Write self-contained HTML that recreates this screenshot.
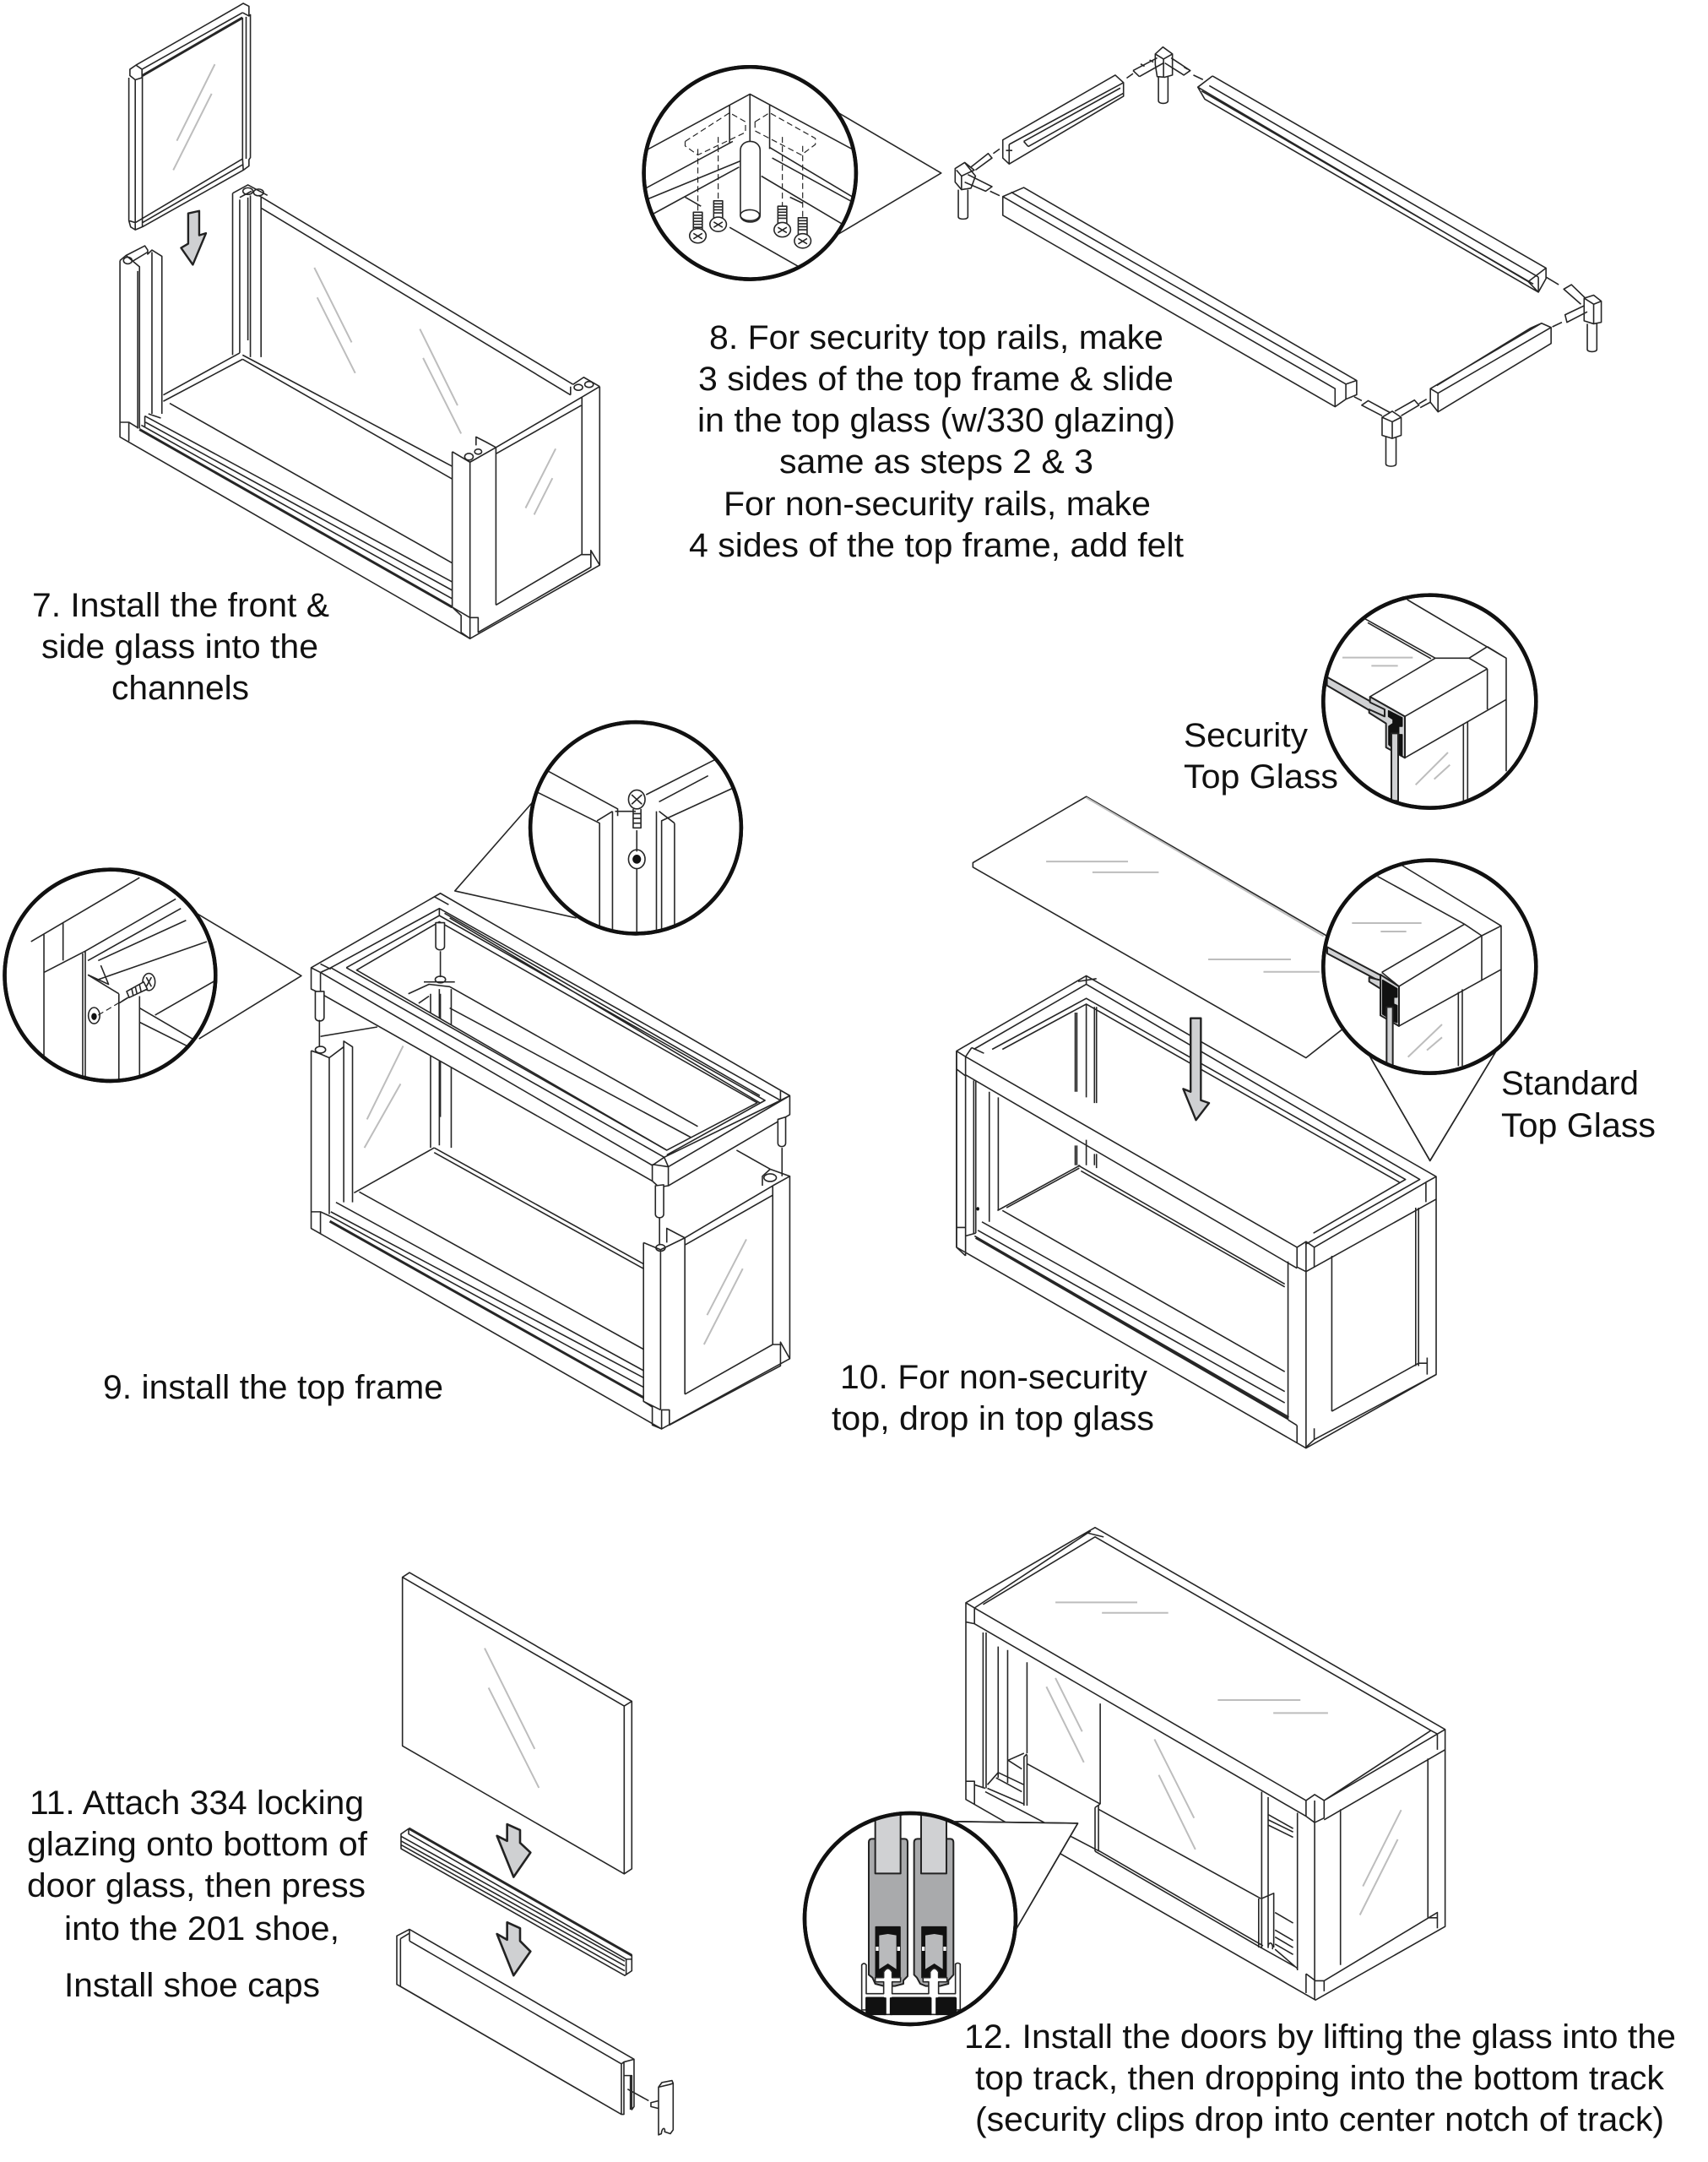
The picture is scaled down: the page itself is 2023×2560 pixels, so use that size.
<!DOCTYPE html>
<html><head><meta charset="utf-8"><style>
html,body{margin:0;padding:0;background:#fff}
svg{display:block}
path,ellipse,circle,polygon,rect{vector-effect:non-scaling-stroke;fill:none;stroke:#262626;stroke-width:1.6;stroke-linejoin:round}
.w{fill:#fff}
.g{stroke:#bdbdbd;stroke-width:2}
.t{stroke-width:3}
.c{stroke:#111;stroke-width:4.5;fill:#fff}
.o{stroke:#111;stroke-width:4.5;fill:none}
.d{stroke-dasharray:7 4;stroke-width:1.2}
.a{fill:#cfd0d2;stroke:#222;stroke-width:2.4}
.m{fill:#a9aaac;stroke:#222;stroke-width:2}
.l{fill:#d0d1d3;stroke:#222;stroke-width:2}
.k{fill:#111;stroke:#111}
text{font-family:"Liberation Sans",sans-serif;font-size:40px;fill:#111}
</style></head><body>
<svg width="2023" height="2560" viewBox="0 0 2023 2560" xmlns="http://www.w3.org/2000/svg">
<defs>
<clipPath id="c2"><ellipse cx="197" cy="490" rx="167" ry="352"/></clipPath>
<clipPath id="c3r"><ellipse cx="1230" cy="250" rx="204" ry="223"/></clipPath>
<clipPath id="c3l"><ellipse cx="213" cy="561" rx="204" ry="223"/></clipPath>
<clipPath id="c8"><circle cx="400" cy="392" r="378"/></clipPath>
<clipPath id="c7"><circle cx="594" cy="366" r="375"/></clipPath>
</defs>
<rect x="0" y="0" width="2023" height="2560" style="fill:#fff;stroke:none"/>

<!-- STEP 7 -->
<g transform="translate(100,0) scale(.4209,.4975)">
<path d="M125 185V525M143 190V547M163 180V540M128 165L145 155L162 165V185L143 190L128 180ZM125 525L130 540L143 547L163 540M125 525L143 530L163 520M145 155L433 15M162 165L445 30M433 15L447 8L463 15V38M445 30L463 38L467 35V375L463 380V395L447 405L445 378M445 42V380M455 40V378M163 520L445 378M163 540L447 405M163 530L445 392"/>
<path class="t" d="M163 180L445 42"/>
<polygon class="a" points="292,508 323,502 323,560 342,555 305,630 272,590 292,580"/>
<path class="g" d="M367 153L260 335M358 223L250 405M647 637L752 815M655 708L762 888M944 783L1050 965M953 852L1060 1032M1326 1068L1218 1248M1317 1138L1210 1318"/>
<path d="M100 620V1040L1085 1520L1450 1345V920M100 620L117 608L170 585L178 595V605L190 595L218 610V985M117 608L155 635L155 1020M150 645V1020M190 600V985M100 1005H125V1050M125 1005L150 1018M135 622L178 600"/>
<ellipse cx="122" cy="620" rx="12" ry="8"/>
<path d="M417 460V845M437 475V840M467 465V850M497 470V850M417 460L460 440L515 465M437 470L470 455M490 465L1375 915M497 495L1368 940M445 845L1035 1110M445 855L1035 1140M460 470V810M222 940L437 840M222 955L445 855M240 960L1035 1340"/>
<ellipse cx="460" cy="455" rx="14" ry="8"/><ellipse cx="490" cy="458" rx="14" ry="8"/>
<path d="M170 990L1035 1385M172 1005L1035 1405M160 1012L1035 1425M180 985L215 995M170 990V1015"/>
<path class="t" d="M155 1022L1035 1445"/>
<path class="w" d="M1035 1075V1445L1060 1465V1505L1085 1520V1470L1108 1470V1505L1425 1350V1310L1450 1345M1035 1075L1085 1100L1158 1065L1130 1052L1102 1040V1060"/>
<path d="M1085 1100V1470M1158 1065V1440M1035 1445L1085 1470M1158 1065L1400 945M1158 1080L1398 965M1400 945V1320M1400 945L1450 920M1375 915L1405 898L1450 920M1368 920V940M1158 1440L1398 1320H1425M1425 1310V1350"/>
<ellipse cx="1082" cy="1087" rx="12" ry="8"/><ellipse cx="1108" cy="1075" rx="10" ry="6"/><ellipse cx="1390" cy="922" rx="12" ry="7"/><ellipse cx="1420" cy="915" rx="12" ry="7"/>
</g>

<!-- STEP 8 -->
<g transform="translate(740,30) scale(.7525,.357)">
<path d="M332 285L498 490L330 700"/>
<ellipse class="c" cx="197" cy="490" rx="167" ry="352"/>
<g clip-path="url(#c2)">
<path d="M20 430L197 228L375 430M165 265V390M197 228V385M228 265V410M20 555L170 385M20 590L182 450M45 625L180 470M228 405L375 590M232 440L375 605M215 500L375 700M165 670L290 820M95 570L120 600M260 570L280 590"/>
<path class="d" d="M95 385L165 290L190 320V355L115 430L95 400ZM205 320L228 290L300 375V395L278 430L205 350ZM115 410V620M147 370V580M248 370V600M280 400V640"/>
<path class="w" d="M182 415C182 375 213 375 213 415V630C213 660 182 660 182 630Z"/>
<ellipse class="w" cx="197" cy="630" rx="15" ry="18"/>
<path class="w" d="M108 620H122V680H108ZM140 582H154V640H140ZM241 600H255V660H241ZM273 638H287V695H273Z"/>
<path d="M108 630H122M108 640H122M108 650H122M108 660H122M108 670H122M140 592H154M140 602H154M140 612H154M140 622H154M241 610H255M241 620H255M241 630H255M241 640H255M273 648H287M273 658H287M273 668H287M273 678H287"/>
<ellipse class="w" cx="115" cy="698" rx="13" ry="24"/><ellipse class="w" cx="147" cy="660" rx="13" ry="24"/><ellipse class="w" cx="248" cy="678" rx="13" ry="24"/><ellipse class="w" cx="280" cy="715" rx="13" ry="24"/>
<path d="M108 690L122 708M122 690L108 708M140 652L154 670M154 652L140 670M241 670L255 688M255 670L241 688M273 707L287 725M287 707L273 725"/>
</g>
<ellipse class="o" cx="197" cy="490" rx="167" ry="352"/>

<path class="w" d="M847 72L862 95V165L850 172L838 170L835 130V95Z"/>
<path d="M835 95L848 112L862 95M848 112V170M800 150L838 108M810 170L848 125M800 150L810 170M860 108L890 150L880 165L850 125M840 170V250C840 262 855 262 855 250V170M790 175L800 160M895 165L910 180M812 128L818 136M826 115L832 122M870 122L876 130M880 138L886 146"/>
<path d="M595 380L772 165L785 190V235L605 460L595 440ZM605 395L785 190M628 385L780 208M635 402L785 225M628 385L635 402M605 395V460M600 415H610"/>
<path d="M925 168L1450 805V840L1438 885L913 245L902 205L925 168M902 205L1422 850L1450 805M908 218L1430 858M920 200L1438 835M1422 850L1438 885M1438 835V885"/>
<path d="M595 568L628 538L1152 1178V1225L1135 1240L1118 1265L595 630ZM595 568L1118 1205V1265M608 553L1135 1190M1135 1190L1152 1178M1135 1190V1240"/>
<path d="M1280 1282L1458 1055V1002L1443 988L1268 1205V1250L1280 1282ZM1278 1195L1425 1005L1443 988M1280 1220L1458 1002M1268 1205L1280 1220V1282M1268 1250L1252 1268"/>
<path class="w" d="M520 475L535 455L552 500L545 540L530 545L520 520Z"/>
<path d="M535 455L550 480L530 500V545M522 480L530 500M545 470L572 425L578 440L552 480M540 495L578 535L568 550L535 520M525 545V635C525 645 540 645 540 635V545M580 425L590 410M575 550L590 565"/>
<path class="w" d="M1510 905L1525 895L1537 915V985L1525 990L1510 980Z"/>
<path d="M1510 905L1525 925L1537 915M1525 925V990M1510 930L1480 960L1483 985L1515 950M1512 905L1490 860L1478 875L1505 925M1515 990V1075C1515 1085 1530 1085 1530 1075V990M1475 985L1460 1000M1470 860L1450 835"/>
<path class="w" d="M1192 1300L1208 1280L1222 1300V1360L1208 1370L1192 1360Z"/>
<path d="M1192 1300L1208 1315L1222 1300M1208 1315V1370M1192 1295L1160 1260L1170 1245L1205 1285M1222 1295L1250 1260L1243 1243L1212 1280M1198 1365V1455C1198 1465 1214 1465 1214 1455V1365M1160 1245L1148 1232M1250 1255L1262 1240"/>
</g>

<!-- STEP 9 -->
<g transform="translate(0,840) scale(.6122,.5612)">
<path d="M1035 190L880 383L1115 440M380 430L583 562L385 695"/>
<path class="g" d="M780 710L710 865M775 790L705 925M1444 1118L1368 1278M1437 1180L1362 1340"/>
<path d="M602 720V1095L1280 1518L1528 1370V985M602 720L620 727L637 735V1065M637 735L665 712V700L682 712V1040M665 700V1040M620 690L730 670M602 1060H620V1105M620 1060L640 1070"/>
<ellipse cx="620" cy="718" rx="10" ry="7"/>
<path d="M833 600V925M850 590V920M873 590V925M852 600V860M790 600L830 580L870 585L1350 880M820 575H880M810 620L830 605M870 630L1340 905M840 925L1245 1170M840 935L1245 1180M685 1020L840 925M695 1018L1245 1350M650 1040L1245 1395M640 1060L1245 1410M640 1070L1245 1430"/>
<path class="t" d="M638 1080L1245 1452"/>
<path d="M1245 1125V1460L1262 1472V1510L1280 1518V1478L1295 1478V1510L1510 1385V1335L1528 1370M1245 1125L1278 1140L1325 1115L1290 1095V1125M1278 1140V1478M1325 1115V1445M1325 1115L1495 1005M1325 1130L1495 1025M1495 1005V1340M1495 1005L1528 985L1490 970L1475 985V1005M1325 1445L1495 1340H1510M1245 1460L1278 1478M1425 930L1490 970"/>
<ellipse cx="1278" cy="1136" rx="9" ry="7"/><ellipse cx="1490" cy="988" rx="12" ry="8"/>
<path class="w" fill-rule="evenodd" style="fill-rule:evenodd" d="M602 545L852 388L1528 815V855L1293 1005L1275 1008L1262 995L618 598L602 590ZM690 550L850 448L1465 830L1290 930Z"/>
<path d="M602 545L620 555V598M620 555L640 545M620 555L1262 962M1262 962L1285 945L1293 965V1005M1262 960L1293 965M1262 962V995M620 537L640 548M640 545L850 420L1510 825L1285 945M670 545L850 435L1480 825L1290 940M840 395L868 412M1510 805V825L1528 815M1293 965L1528 815M640 545L1285 945M670 545L1290 930M850 420V435M860 430L1470 815M870 440L1470 830"/>
<path class="w" d="M610 595V650C610 660 627 660 627 650V595ZM843 450V500C843 510 860 510 860 500V450ZM1505 865V915C1505 925 1520 925 1520 915V860ZM1268 1005V1065C1268 1075 1284 1075 1284 1065V1003Z"/>
<path d="M618 655V710M852 510V565M1513 925V985M1276 1072V1130"/>
<ellipse cx="852" cy="570" rx="10" ry="7"/>
<ellipse class="c" cx="1230" cy="250" rx="204" ry="223"/>
<g clip-path="url(#c3r)">
<path d="M1060 130L1195 210V225M1040 175L1160 240V470M1185 215V470M1420 165L1280 235V470M1385 105L1250 180M1370 140L1275 195M1305 240V470M1232 310V470M1155 235L1185 215M1275 215L1305 240M1270 215V470M1190 215H1230"/>
<ellipse class="w" cx="1232" cy="190" rx="16" ry="20"/><ellipse class="w" cx="1232" cy="316" rx="16" ry="20"/>
<ellipse class="k" cx="1232" cy="316" rx="7" ry="8"/>
<path d="M1222 180L1242 200M1242 180L1222 200M1225 210V250H1240V210M1225 220H1240M1225 230H1240M1225 240H1240M1232 255V300"/>
</g>
<ellipse class="o" cx="1230" cy="250" rx="204" ry="223"/>
<ellipse class="c" cx="213" cy="561" rx="204" ry="223"/>
<g clip-path="url(#c3l)">
<path d="M60 490L270 355M85 475V790M122 450V530M85 555L165 510M160 515V790M165 510V780M165 510L340 400M170 530L350 420M190 530L360 445M190 570L400 490M170 560L230 600M230 600V790M270 605V790M230 620L290 580M270 630L380 700M270 660L380 720M300 645L420 570M60 490L122 450M170 560L210 580L195 540"/>
<path class="d" d="M190 645L275 590"/>
<ellipse cx="182" cy="646" rx="11" ry="17"/><ellipse class="k" cx="182" cy="648" rx="4" ry="6"/>
<ellipse class="w" cx="288" cy="575" rx="12" ry="18"/>
<path class="w" d="M245 595L278 575L285 590L250 608Z"/>
<path d="M255 590L258 605M262 586L265 600M270 581L273 596M283 565L293 585M293 565L283 585"/>
</g>
<ellipse class="o" cx="213" cy="561" rx="204" ry="223"/>
</g>

<!-- STEP 10 -->
<g transform="translate(1100,690) scale(.4847,.6697)">
<path class="w" d="M108 495L385 378L1010 640V790L922 840L108 503Z"/>
<path class="g" d="M287 493H487M400 512H562M683 666H885M818 688H955M385 380L965 625"/>
<path d="M1072 830L1225 1022L1385 830"/>
<path class="g" d="M1132 1193L1038 1330M1124 1245L1032 1380"/>
<path class="w" d="M68 828L385 695L1240 1050V1400L922 1530L68 1175Z"/>
<path d="M68 828V1175M90 838V1190M68 860L90 872M68 1140H90M90 1155L115 1150M68 1175L90 1190M90 838L105 822M68 828L90 838M90 838L900 1175M90 870L900 1212M900 1175L922 1165L942 1175V1210L922 1218L900 1210ZM922 1165V1218M942 1175L1215 1060L1240 1050M942 1210L1240 1090M1215 1060V1095M110 825L385 710L1200 1055L920 1170M155 825L385 735L1165 1055L940 1150M385 695V710M365 705L410 700M105 822L135 832M180 825L385 745L1150 1060M110 880V1150M115 880V1150M148 900V1130M170 910V1110M168 1110L370 1030M190 1105L368 1035M385 745V910M385 985V1030M358 760V900M358 995V1030M362 760V900M362 995V1030M410 750V920M410 1010V1035M405 750V920M405 1010V1030M365 1030L870 1240M372 1040L870 1245M180 1110L870 1395M130 1130L870 1430M120 1145L870 1450M112 1155L880 1475"/>
<path class="t" d="M115 1158L878 1478"/>
<path d="M878 1200V1480M922 1218V1530M900 1490V1520M942 1495V1515M900 1490L878 1480M985 1190V1465M1190 1105V1385M1197 1105V1385M985 1465L1197 1380H1218V1400M1218 1370V1400M942 1515L1240 1400M920 1530L942 1515"/>
<ellipse cx="120" cy="1107" rx="2" ry="2" class="k"/>
<polygon class="a" points="640,770 665,770 665,915 685,920 653,950 622,895 640,900"/>
<path d="M1072 830L1225 1022L1385 830"/>
</g>
<g transform="translate(1560,700) scale(.3333)">
<circle class="c" cx="400" cy="392" r="378"/>
<g clip-path="url(#c8)">
<path class="g" d="M90 236H340M193 265H287M465 573L350 688M472 617L416 668"/>
<path d="M170 98L420 238M180 112L405 240M320 30L672 238V640M420 238H540L605 276M540 238L605 197M605 197L672 238M605 276V420M188 375L420 238M188 375L312 445L605 276M312 445V592L672 385M520 475V745M535 465V745"/>
<polygon class="l" points="35,305 240,420 240,455 35,335"/>
<path class="l" d="M188 375L312 445V592L245 555V470L185 432V420L240 445V420L188 395Z"/>
<path class="k" d="M254 425L302 450V480L290 480V510L302 510V585L255 545V480L270 470V455L254 445Z"/>
<polygon class="l" points="264,505 288,505 288,745 264,745"/>
</g>
<circle class="o" cx="400" cy="392" r="378"/>
</g>
<g transform="translate(1560,1014) scale(.3333)">
<circle class="c" cx="400" cy="392" r="378"/>
<g clip-path="url(#c8)">
<path class="g" d="M124 237H371M226 267H317M444 597L323 713M444 643L390 689"/>
<path d="M298 30L654 247V693M215 71L524 241M524 241L585 282L654 247M230 412L524 241M230 412L291 462L585 282M291 462V603L654 402M585 282V442M502 482V745M516 472V745"/>
<polygon class="l" points="36,322 225,422 225,445 36,345"/>
<path class="l" d="M185 430L225 440V470L185 445Z"/>
<path class="l" d="M225 420L291 462V603L225 565Z"/>
<path class="k" d="M233 440L284 470V500L272 500V525L284 530V590L270 585V530L248 530V570L233 560Z"/>
<polygon class="l" points="247,535 269,535 269,745 247,745"/>
</g>
<circle class="o" cx="400" cy="392" r="378"/>
</g>

<!-- STEP 11 -->
<g transform="translate(440,1840) scale(.3333,.4592)">
<path class="g" d="M402 243L580 503M416 345L595 603"/>
<path d="M110 60L135 48L925 380V812L898 825L110 495ZM110 60L898 392V825M898 392L925 380"/>
<path d="M105 722L133 708L925 1035V1075L900 1087L105 760ZM105 728L900 1050M105 740L900 1062M105 750L900 1075M132 708V722L905 1045V1085M905 1045H925"/>
<path class="t" d="M133 708L925 1035"/>
<path class="w" d="M90 985L135 968L933 1303V1425L925 1433V1345L897 1345V1445L888 1445L90 1110ZM90 985V1110M103 992V1115M103 992L135 978M135 968V998M103 1115L888 1445M888 1315V1445M135 998L888 1315L897 1310V1345M897 1310L933 1303M920 1345V1433"/>
<path d="M910 1380L985 1410"/>
<path class="w" d="M1020 1375L1032 1363L1068 1358L1072 1365V1485L1062 1495L1042 1490C1045 1478 1032 1478 1030 1495L1020 1498ZM1020 1410L993 1415V1425L1020 1430"/>
<path d="M1020 1375L1060 1368L1072 1365"/>
<polygon class="a" style="stroke-width:2.6" points="482,697 528,712 528,745 565,770 505,833 446,727 482,740"/>
<polygon class="a" style="stroke-width:2.6" points="482,950 528,965 528,998 565,1025 505,1087 446,980 482,995"/>
</g>

<!-- STEP 12 -->
<g transform="translate(940,1790) scale(.51,.4145)">
<path d="M400 260L700 45L1513 622V1185L1212 1395L400 822ZM420 275L690 55M420 275V320M400 260L420 275M420 275L1190 825M420 320L1190 870M440 265L700 72L1480 625L1232 825M680 60L720 72M1190 825L1210 808L1232 825V875L1210 888L1190 870ZM1210 825V888M1232 825L1495 635M1480 625L1495 635L1513 622M1495 635V680M1232 880L1513 680M1210 888V1395M1170 860V1310M1270 850V1295M1473 705V1160M400 315L420 320M400 770H420V835M420 780L445 790"/>
<path d="M1190 1320V1375M1232 1340V1370M1190 1320L1212 1340L1232 1340L1495 1145V1190M1473 1160H1495"/>
<path class="g" d="M985 538H1177M1114 575H1241M608 259H798M716 289H870M608 475L670 628M587 500L674 716M838 650L930 875M848 752L933 965M1411 852L1322 1070M1403 936L1315 1152"/>
<path d="M440 345V790M447 345V790M475 385V760M497 395V775M542 430V690M535 700V840M542 695V840M535 700L542 692M498 710L535 690M498 710L530 735M450 780L475 745L535 780M450 790L535 835M445 800L710 970M470 760L530 800M712 548V835M700 845V970M708 840V970M700 845L712 835M542 720L712 835M708 850L1085 1105M1087 800V1105M1102 815V1095M1102 865L1160 905M1102 880L1160 915M1102 895L1160 930M1118 1145L1160 1175M1118 1195L1160 1225M1118 1215L1160 1245M1118 1235L1160 1265M1118 1250L1170 1305"/>
<path d="M1080 1105V1245M1087 1105V1245M1087 1105L1115 1090V1245M1102 1095V1245C1102 1225 1115 1230 1112 1250M700 970L1085 1245M708 968L1090 1240M1085 1245L1165 1300"/>
<polygon class="w" points="380,885 660,890 518,1190 300,1100"/>
</g>
<g transform="translate(880,2150) scale(.3333)">
<circle class="c" cx="594" cy="366" r="375"/>
<g clip-path="url(#c7)">
<path class="m" d="M447 95Q447 82 458 82H575Q585 82 585 95V570L570 585V597L540 605H500L470 597L460 575L447 565Z"/>
<path class="m" d="M608 95Q608 82 620 82H737Q748 82 748 95V565L730 585V597L700 605H650L630 597L618 575L608 565Z"/>
<polygon class="l" points="470,-20 560,-20 560,205 470,205"/>
<polygon class="l" points="633,-20 723,-20 723,205 633,205"/>
<path class="k" d="M472 395H558V575H472ZM636 395H722V575H636Z"/>
<path style="fill:#b9babc;stroke:none" d="M484 425L515 420L545 425V545L515 525L484 545ZM648 425L680 420L710 425V545L680 525L648 545Z"/>
<path style="fill:#fff;stroke:none" d="M472 465H482V480H472ZM548 465H558V480H548ZM636 465H646V480H636ZM712 465H722V480H712Z"/>
<path class="w" d="M500 632V590H470V575H500V555Q515 530 530 555V575H560V590H530V632H660V590H640V575H665V555Q680 530 695 555V575H725V590H695V632H755V527Q763 520 772 527V690H755V646H695V706H665V646H530V706H500V646H438V690H422V530Q430 520 438 530V632Z"/>
<path class="k" d="M438 648H507V706H438ZM524 648H668V706H524ZM687 648H757V706H687Z"/>
</g>
<circle class="o" cx="594" cy="366" r="375"/>
</g>
<g transform="translate(940,1790) scale(.51,.4145)">
<path d="M660 890L370 885M660 890L518 1190"/>
</g>

<!-- TEXT -->
<text x="38" y="730" textLength="352" lengthAdjust="spacingAndGlyphs">7. Install the front &amp;</text>
<text x="49" y="779" textLength="328" lengthAdjust="spacingAndGlyphs">side glass into the</text>
<text x="132" y="828" textLength="163" lengthAdjust="spacingAndGlyphs">channels</text>
<text x="840" y="413" textLength="538" lengthAdjust="spacingAndGlyphs">8. For security top rails, make</text>
<text x="827" y="462" textLength="563" lengthAdjust="spacingAndGlyphs">3 sides of the top frame &amp; slide</text>
<text x="826" y="511" textLength="566" lengthAdjust="spacingAndGlyphs">in the top glass (w/330 glazing)</text>
<text x="923" y="560" textLength="372" lengthAdjust="spacingAndGlyphs">same as steps 2 &amp; 3</text>
<text x="857" y="610" textLength="506" lengthAdjust="spacingAndGlyphs">For non-security rails, make</text>
<text x="816" y="659" textLength="586" lengthAdjust="spacingAndGlyphs">4 sides of the top frame, add felt</text>
<text x="1402" y="884" textLength="147" lengthAdjust="spacingAndGlyphs">Security</text>
<text x="1402" y="933" textLength="183" lengthAdjust="spacingAndGlyphs">Top Glass</text>
<text x="1778" y="1296" textLength="163" lengthAdjust="spacingAndGlyphs">Standard</text>
<text x="1778" y="1346" textLength="183" lengthAdjust="spacingAndGlyphs">Top Glass</text>
<text x="122" y="1656" textLength="403" lengthAdjust="spacingAndGlyphs">9. install the top frame</text>
<text x="995" y="1644" textLength="364" lengthAdjust="spacingAndGlyphs">10. For non-security</text>
<text x="985" y="1693" textLength="382" lengthAdjust="spacingAndGlyphs">top, drop in top glass</text>
<text x="35" y="2148" textLength="396" lengthAdjust="spacingAndGlyphs">11. Attach 334 locking</text>
<text x="32" y="2197" textLength="403" lengthAdjust="spacingAndGlyphs">glazing onto bottom of</text>
<text x="32" y="2246" textLength="401" lengthAdjust="spacingAndGlyphs">door glass, then press</text>
<text x="76" y="2297" textLength="326" lengthAdjust="spacingAndGlyphs">into the 201 shoe,</text>
<text x="76" y="2364" textLength="303" lengthAdjust="spacingAndGlyphs">Install shoe caps</text>
<text x="1142" y="2425" textLength="843" lengthAdjust="spacingAndGlyphs">12. Install the doors by lifting the glass into the</text>
<text x="1155" y="2474" textLength="816" lengthAdjust="spacingAndGlyphs">top track, then dropping into the bottom track</text>
<text x="1155" y="2523" textLength="816" lengthAdjust="spacingAndGlyphs">(security clips drop into center notch of track)</text>
</svg>
</body></html>
